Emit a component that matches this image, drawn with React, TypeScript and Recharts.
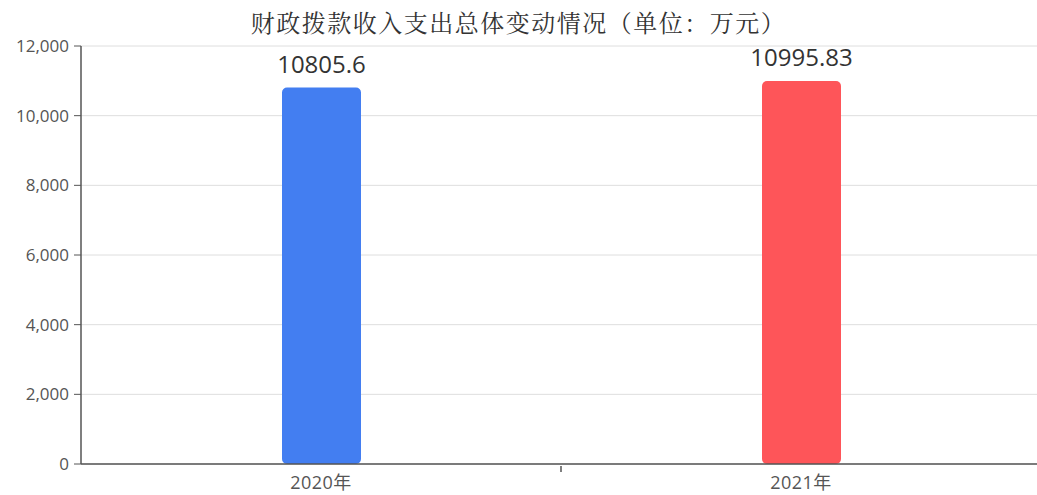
import React from 'react';
import { BarChart, Bar, XAxis, YAxis, CartesianGrid, LabelList, Cell } from 'recharts';

const years = ['2020年', '2021年'];
const amounts = [10805.6, 10995.83];
const barColors = ['#437ef1', '#fe5559'];
const yTicks = [0, 2000, 4000, 6000, 8000, 10000, 12000];

const data = years.map((y, i) => ({ year: y, amount: amounts[i] }));

const fontFamily = '"Open Sans", "Noto Sans CJK SC", sans-serif';

function XTick(props: any) {
  const { x, y, payload } = props;
  const half = payload && payload.offset ? payload.offset : 240;
  return (
    <g>
      <line x1={x + half} y1={y - 6} x2={x + half} y2={y} stroke="#555" strokeWidth={1.5} />
      <text x={x} y={y + 17} textAnchor="middle" fill="#555" fontSize={18} letterSpacing={0.5} fontFamily={fontFamily}>
        {payload.value}
      </text>
    </g>
  );
}

export default function App() {
  return (
    <div style={{ position: 'absolute', left: 0, top: 0, width: 1037, height: 495, overflow: 'hidden', background: '#fff' }}>
      <div
        style={{
          position: 'absolute',
          left: 0,
          width: 1037,
          top: 4,
          textAlign: 'center',
          fontFamily: '"Noto Serif CJK SC", "Noto Serif SC", serif',
          fontSize: 24,
          letterSpacing: 1.5,
          color: '#333',
        }}
      >
        财政拨款收入支出总体变动情况（单位：万元）
      </div>
      <BarChart
        width={1045}
        height={495}
        data={data}
        margin={{ top: 46, right: 4, left: 0, bottom: 0 }}
        barSize={79}
      >
        <CartesianGrid vertical={false} stroke="#dedede" />
        <XAxis
          dataKey="year"
          height={31}
          axisLine={{ stroke: '#555', strokeWidth: 1.5 }}
          tickLine={false}
          tick={<XTick />}
          interval={0}
        />
        <YAxis
          width={81}
          domain={[0, 12000]}
          ticks={yTicks}
          tickFormatter={(v: number) => v.toLocaleString('en-US')}
          axisLine={{ stroke: '#555', strokeWidth: 1.5 }}
          tickLine={{ stroke: '#555' }}
          tickSize={7}
          tickMargin={5}
          tick={{ fill: '#555', fontSize: 17, fontFamily }}
        />
        <Bar dataKey="amount" radius={[5, 5, 5, 5]} isAnimationActive={false}>
          {data.map((d, i) => (
            <Cell key={d.year} fill={barColors[i]} />
          ))}
          <LabelList dataKey="amount" position="top" offset={15} fill="#333" fontSize={24} fontFamily={fontFamily} />
        </Bar>
      </BarChart>
    </div>
  );
}
